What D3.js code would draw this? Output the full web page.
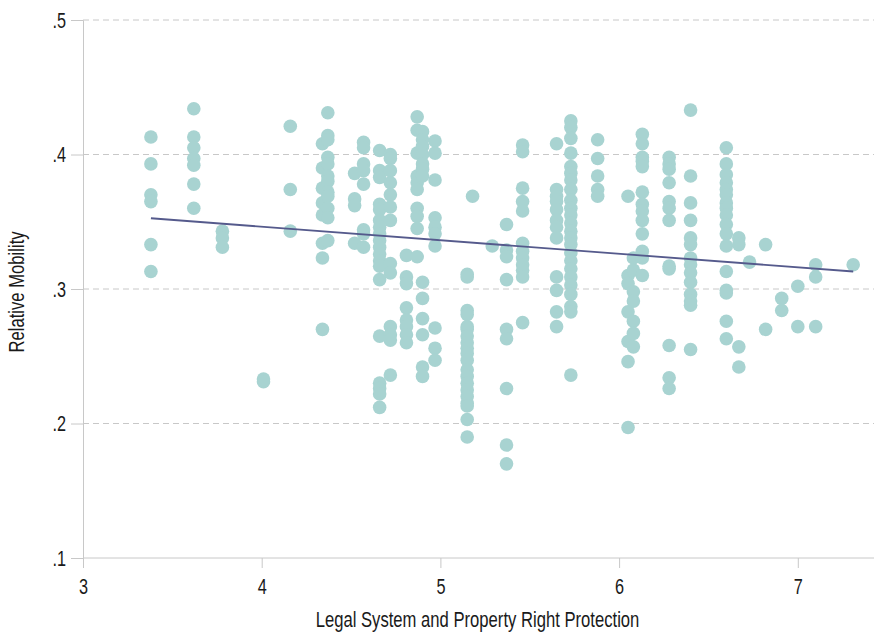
<!DOCTYPE html>
<html>
<head>
<meta charset="utf-8">
<script src="https://cdn.jsdelivr.net/npm/d3@7"></script>
<style>
  body { margin: 0; background: #fff; }
  svg text { font-family: "Liberation Sans", Arial, sans-serif; fill: #1a1a1a; }
</style>
</head>
<body>
<svg class="scatter" width="874" height="633"></svg>
<script>
// legal system score of each column of points
const legalScores = [3.38, 3.62, 3.78, 4.01, 4.16, 4.34, 4.37, 4.52, 4.57, 4.66, 4.72, 4.81,
    4.87, 4.90, 4.97, 5.15, 5.18, 5.29, 5.37, 5.46, 5.65, 5.73, 5.88, 6.05, 6.08, 6.13,
    6.28, 6.40, 6.60, 6.67, 6.73, 6.82, 6.91, 7.00, 7.10, 7.31];

// relative mobility values for each column
const mobility = [
    [.413, .393, .370, .365, .333, .313],
    [.434, .413, .405, .397, .392, .378, .360],
    [.343, .338, .331],
    [.233, .231],
    [.421, .374, .343],
    [.408, .390, .375, .364, .355, .334, .323, .270],
    [.431, .414, .411, .398, .393, .384, .380, .372, .369, .360, .353, .336],
    [.386, .367, .362, .334],
    [.409, .405, .393, .388, .378, .344, .341, .331],
    [.403, .388, .383, .363, .359, .351, .346, .341, .336, .331, .326, .321, .317, .307, .265, .230, .226, .222, .212],
    [.400, .397, .388, .379, .370, .361, .351, .319, .312, .272, .266, .262, .236],
    [.325, .309, .304, .286, .277, .272, .266, .260],
    [.428, .418, .401, .384, .379, .374, .360, .354, .345, .324],
    [.417, .411, .406, .400, .393, .389, .384, .305, .293, .278, .266, .242, .235],
    [.410, .401, .381, .353, .346, .341, .332, .271, .256, .247],
    [.311, .309, .284, .281, .272, .270, .265, .260, .256, .252, .247, .240, .235, .230, .225, .220, .215, .213, .203, .190],
    [.369],
    [.332],
    [.348, .329, .324, .307, .270, .263, .226, .184, .170],
    [.407, .402, .375, .365, .358, .334, .328, .323, .318, .314, .309, .275],
    [.408, .374, .369, .365, .359, .351, .346, .338, .309, .299, .283, .272],
    [.425, .420, .412, .401, .391, .386, .381, .374, .366, .360, .355, .349, .343, .338, .333, .327, .321, .315, .309, .303, .296, .287, .283, .236],
    [.411, .397, .384, .374, .369],
    [.369, .310, .304, .283, .261, .246, .197],
    [.323, .314, .298, .291, .276, .267, .257],
    [.415, .408, .398, .395, .391, .372, .363, .358, .351, .341, .328, .323, .310],
    [.398, .393, .389, .379, .365, .360, .351, .317, .315, .258, .234, .226],
    [.433, .384, .364, .351, .338, .333, .323, .318, .312, .305, .296, .291, .288, .255],
    [.405, .393, .385, .379, .374, .370, .364, .360, .355, .348, .341, .332, .313, .299, .297, .276, .263],
    [.338, .333, .257, .242],
    [.320],
    [.333, .270],
    [.293, .284],
    [.302, .272],
    [.318, .309, .272],
    [.318]
];

// fitted line end points
const fitX = [3.38, 7.31];
const fitY = [0.3526, 0.313];

const xTicks = [3, 4, 5, 6, 7];
const yTicks = [0.1, 0.2, 0.3, 0.4, 0.5];

const svg = d3.select('.scatter');
const width = +svg.attr('width');
const height = +svg.attr('height');
const margin = { top: 20, right: 0, bottom: 75, left: 83 };
const innerWidth = width - margin.left - margin.right;
const innerHeight = height - margin.top - margin.bottom;

// narrow the glyphs to look like the condensed font of the original
const squeeze = 0.74;

const points = legalScores.flatMap((x, i) => mobility[i].map(y => ({ x, y })));

const xScale = d3.scaleLinear()
    .domain([3, 3 + innerWidth / 178.7])
    .range([0, innerWidth]);

const yScale = d3.scaleLinear()
    .domain([0.1, 0.5])
    .range([innerHeight, 0]);

const g = svg.append('g')
    .attr('transform', `translate(${margin.left}, ${margin.top})`);

// dashed gridlines
g.append('g')
    .selectAll('line')
    .data(yTicks.slice(1))
    .join('line')
    .attr('x1', 0)
    .attr('x2', innerWidth)
    .attr('y1', d => yScale(d))
    .attr('y2', d => yScale(d))
    .attr('stroke', '#c8c8c8')
    .attr('stroke-width', 1)
    .attr('stroke-dasharray', '6,4');

const fmt = d => d3.format('.1f')(d).replace(/^0/, '');

const yAxis = g.append('g')
    .call(d3.axisLeft(yScale).tickValues(yTicks).tickFormat(fmt).tickSize(12).tickPadding(5));
yAxis.select('.domain').attr('stroke', '#c8c8c8');
yAxis.selectAll('.tick line').attr('stroke', '#c8c8c8');
yAxis.selectAll('text')
    .style('font-size', '22px')
    .attr('x', -17 / squeeze)
    .attr('transform', `scale(${squeeze},1)`);

const xAxis = g.append('g')
    .attr('transform', `translate(0, ${innerHeight})`)
    .call(d3.axisBottom(xScale).tickValues(xTicks).tickFormat(d3.format('d')).tickSize(10).tickPadding(10));
xAxis.select('.domain').attr('stroke', '#c8c8c8').attr('d', `M0,0H${innerWidth}`);
xAxis.selectAll('.tick line').attr('stroke', '#c8c8c8');
xAxis.selectAll('text')
    .style('font-size', '22px')
    .attr('transform', `scale(${squeeze},1)`);

g.append('text')
    .attr('transform', `translate(${innerWidth / 2 - 1}, ${innerHeight + 69}) scale(${squeeze},1)`)
    .attr('text-anchor', 'middle')
    .style('font-size', '22.5px')
    .text('Legal System and Property Right Protection');

g.append('text')
    .attr('transform', `translate(-59, ${innerHeight / 2 + 3}) rotate(-90) scale(${squeeze},1)`)
    .attr('text-anchor', 'middle')
    .style('font-size', '22.5px')
    .text('Relative Mobility');

g.append('g')
    .selectAll('circle')
    .data(points)
    .join('circle')
    .attr('cx', d => xScale(d.x))
    .attr('cy', d => yScale(d.y))
    .attr('r', 6.8)
    .attr('fill', '#a8d3d1');

g.append('line')
    .attr('x1', xScale(fitX[0]))
    .attr('x2', xScale(fitX[1]))
    .attr('y1', yScale(fitY[0]))
    .attr('y2', yScale(fitY[1]))
    .attr('stroke', '#555a8c')
    .attr('stroke-width', 1.8);
</script>
</body>
</html>
